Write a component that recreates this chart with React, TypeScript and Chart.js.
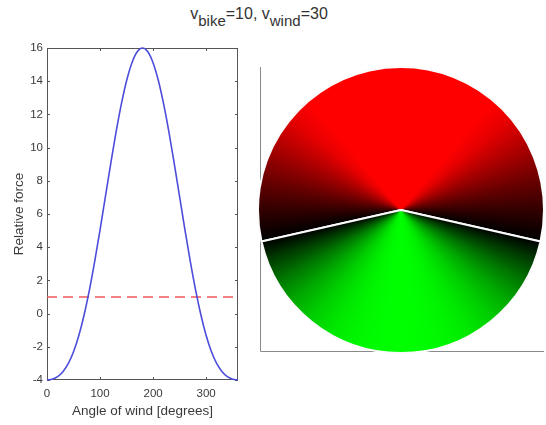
import React, { useEffect, useRef } from "react";
import { Chart, registerables } from "chart.js";

Chart.register(...registerables);

// ---- data ----
const windAngles = [0, 10, 20, 30, 40, 50, 60, 70, 80, 90, 100, 110, 120, 130, 140, 150, 160, 170, 180,
  190, 200, 210, 220, 230, 240, 250, 260, 270, 280, 290, 300, 310, 320, 330, 340, 350, 360];
const relativeForce = [-4.0, -3.95, -3.8, -3.5, -3.02, -2.3, -1.32, -0.07, 1.43, 3.16, 5.05, 7.03, 9.01, 10.9, 12.6, 14.03, 15.1, 15.77, 16.0,
  15.77, 15.1, 14.03, 12.6, 10.9, 9.01, 7.03, 5.05, 3.16, 1.43, -0.07, -1.32, -2.3, -3.02, -3.5, -3.8, -3.95, -4.0];
const thresholdForce = 1;
const xRange = [0, 360];
const yRange = [-4, 16];
const xTickValues = [0, 100, 200, 300];
const yTickValues = [-4, -2, 0, 2, 4, 6, 8, 10, 12, 14, 16];
const crossingAngles = [77.3, 282.7]; // wind angles where force = threshold
const redFullScale = 11;  // force above threshold giving full red
const greenFullScale = 5; // force below threshold giving full green

const FONT = "'Liberation Sans', Arial, Helvetica, sans-serif";
const TEXT = "#3a3a3a";

function forceColor(f: number): string {
  if (f >= thresholdForce) {
    const r = Math.round(255 * Math.min(1, (f - thresholdForce) / redFullScale));
    return `rgb(${r},0,0)`;
  }
  const g = Math.round(255 * Math.min(1, (thresholdForce - f) / greenFullScale));
  return `rgb(0,${g},0)`;
}

// angle of wind -> fraction around circle, clockwise from top (head wind at top)
function angleToFrac(theta: number): number {
  let t = (180 - theta) / 360;
  if (t < 0) t += 1;
  return t;
}

const frameTicksPlugin = {
  id: "frameTicks",
  beforeDatasetsDraw(chart: any) {
    const { ctx, chartArea: a, scales } = chart;
    ctx.save();
    ctx.strokeStyle = "#555";
    ctx.lineWidth = 1;
    ctx.strokeRect(a.left + 0.5, a.top + 0.5, a.right - a.left - 1, a.bottom - a.top - 1);
    const len = 3;
    ctx.beginPath();
    scales.x.ticks.forEach((t: any) => {
      const px = Math.round(scales.x.getPixelForValue(t.value)) + 0.5;
      ctx.moveTo(px, a.bottom);
      ctx.lineTo(px, a.bottom - len);
      ctx.moveTo(px, a.top);
      ctx.lineTo(px, a.top + len);
    });
    scales.y.ticks.forEach((t: any) => {
      const py = Math.round(scales.y.getPixelForValue(t.value)) + 0.5;
      ctx.moveTo(a.left, py);
      ctx.lineTo(a.left + len, py);
      ctx.moveTo(a.right, py);
      ctx.lineTo(a.right - len, py);
    });
    ctx.stroke();
    ctx.restore();
  },
};

const frameAxesPlugin = {
  id: "frameAxes",
  beforeDatasetsDraw(chart: any) {
    const { ctx, chartArea: a } = chart;
    ctx.save();
    ctx.strokeStyle = "#8a8a8a";
    ctx.lineWidth = 1;
    ctx.beginPath();
    ctx.moveTo(a.left + 3.5, a.top + 1);
    ctx.lineTo(a.left + 3.5, a.bottom - 2.5);
    ctx.lineTo(a.right - 1, a.bottom - 2.5);
    ctx.stroke();
    ctx.restore();
  },
};

function LeftChart() {
  const ref = useRef<HTMLCanvasElement>(null);
  useEffect(() => {
    const chart = new Chart(ref.current as HTMLCanvasElement, {
      type: "line",
      data: {
        datasets: [
          {
            data: windAngles.map((x, i) => ({ x, y: relativeForce[i] })),
            borderColor: "#4d4ddb",
            borderWidth: 1.6,
            pointRadius: 0,
            cubicInterpolationMode: "monotone",
            clip: 4,
          } as any,
          {
            data: xRange.map((x) => ({ x, y: thresholdForce })),
            borderColor: "#ee5a5a",
            borderWidth: 1.6,
            borderDash: [10, 6],
            pointRadius: 0,
          },
        ],
      },
      options: {
        animation: false,
        responsive: false,
        events: [],
        layout: { padding: { top: 48, right: 12, left: 0, bottom: 0 } },
        plugins: { legend: { display: false }, tooltip: { enabled: false } },
        scales: {
          x: {
            type: "linear",
            min: xRange[0],
            max: xRange[1],
            afterBuildTicks: (s: any) => { s.ticks = xTickValues.map((v) => ({ value: v })); },
            afterFit: (s: any) => { s.height = 45; },
            grid: { display: false, drawTicks: false },
            border: { display: false },
            ticks: { color: TEXT, font: { family: FONT, size: 11.5 }, padding: 7, maxRotation: 0 },
            title: { display: true, text: "Angle of wind [degrees]", color: TEXT, font: { family: FONT, size: 13.5 }, padding: { top: 0, bottom: 6 } },
          },
          y: {
            type: "linear",
            min: yRange[0],
            max: yRange[1],
            afterBuildTicks: (s: any) => { s.ticks = yTickValues.map((v) => ({ value: v })); },
            afterFit: (s: any) => { s.width = 47; },
            grid: { display: false, drawTicks: false },
            border: { display: false },
            ticks: { color: TEXT, font: { family: FONT, size: 11.5 }, padding: 4 },
            title: { display: true, text: "Relative force", color: TEXT, font: { family: FONT, size: 13.5 }, padding: { top: 11, bottom: 0 } },
          },
        },
      },
      plugins: [frameTicksPlugin],
    } as any);
    return () => chart.destroy();
  }, []);
  return <canvas ref={ref} width={250} height={425} style={{ position: "absolute", left: 0, top: 0, width: 250, height: 425 }} />;
}

function RightChart() {
  const ref = useRef<HTMLCanvasElement>(null);
  useEffect(() => {
    const redSpan = crossingAngles[1] - crossingAngles[0];
    const greenSpan = 360 - redSpan;
    const chart = new Chart(ref.current as HTMLCanvasElement, {
      type: "pie",
      data: {
        labels: ["Resistance above threshold", "Resistance below threshold"],
        datasets: [
          {
            data: [redSpan, greenSpan],
            backgroundColor: (c: any) => {
              const ch = c.chart;
              const a = ch.chartArea;
              if (!a) return "#000";
              const cx = (a.left + a.right) / 2;
              const cy = (a.top + a.bottom) / 2;
              const g = ch.ctx.createConicGradient(-Math.PI / 2, cx, cy);
              windAngles.forEach((th, i) => {
                const col = forceColor(relativeForce[i]);
                const t = angleToFrac(th);
                g.addColorStop(t, col);
                if (t === 0) g.addColorStop(1, col);
              });
              crossingAngles.forEach((th) => g.addColorStop(angleToFrac(th), "rgb(0,0,0)"));
              return g;
            },
            borderColor: "#fbfbfb",
            borderWidth: 2,
            hoverOffset: 0,
          } as any,
        ],
      },
      options: {
        animation: false,
        responsive: false,
        events: [],
        rotation: -(180 - crossingAngles[0]),
        layout: { padding: 0 },
        plugins: { legend: { display: false }, tooltip: { enabled: false } },
      },
      plugins: [frameAxesPlugin],
    } as any);
    return () => chart.destroy();
  }, []);
  return <canvas ref={ref} width={288} height={288} style={{ position: "absolute", left: 257, top: 66, width: 288, height: 288 }} />;
}

export default function App() {
  const subStyle: React.CSSProperties = { fontSize: "15px", verticalAlign: "-7px", lineHeight: 0 };
  return (
    <div style={{ position: "fixed", left: 0, top: 0, width: 546, height: 425, background: "#fff", overflow: "hidden" }}>
      <div
        style={{
          position: "absolute",
          left: 0,
          top: 4,
          width: 518,
          textAlign: "center",
          fontFamily: FONT,
          fontSize: "16px",
          lineHeight: "20px",
          color: "#333",
          whiteSpace: "nowrap",
        }}
      >
        v<sub style={subStyle}>bike</sub>=10, v<sub style={subStyle}>wind</sub>=30
      </div>
      <LeftChart />
      <RightChart />
    </div>
  );
}
